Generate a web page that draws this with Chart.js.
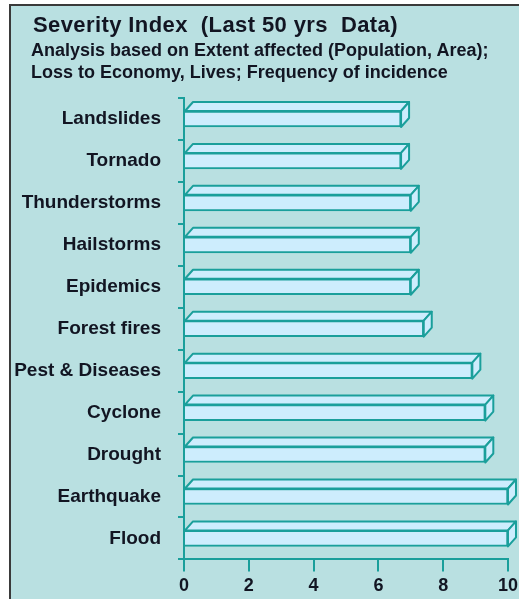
<!DOCTYPE html>
<html>
<head>
<meta charset="utf-8">
<script src="https://cdn.jsdelivr.net/npm/chart.js@4.4.1/dist/chart.umd.min.js"></script>
<style>
  body { margin: 0; background: #fff; overflow: hidden; font-family: 'Liberation Sans', Arial, sans-serif; color: #121522; }
  #panel {
    position: absolute; left: 9px; top: 4px; width: 508px; height: 600px;
    background: #b9e0e1; border-left: 2px solid #3a3a3a; border-top: 2px solid #3a3a3a;
  }
  #chart { position: absolute; left: 0; top: 0; }
  .title { position: absolute; left: 33px; top: 12px; font-size: 22px; letter-spacing: 0.4px; font-weight: bold; line-height: 25px; white-space: pre; }
  .subtitle { position: absolute; left: 31px; top: 39px; font-size: 18px; font-weight: bold; line-height: 22px; white-space: pre; }
</style>
</head>
<body>
<div id="panel"></div>
<canvas id="chart" width="522" height="604"></canvas>
<div class="title">Severity Index  (Last 50 yrs  Data)</div>
<div class="subtitle">Analysis based on Extent affected (Population, Area);
Loss to Economy, Lives; Frequency of incidence</div>
<script>
// data
const hazards = ['Landslides', 'Tornado', 'Thunderstorms', 'Hailstorms', 'Epidemics',
  'Forest fires', 'Pest & Diseases', 'Cyclone', 'Drought', 'Earthquake', 'Flood'];
const severity = [6.7, 6.7, 7.0, 7.0, 7.0, 7.4, 8.9, 9.3, 9.3, 10, 10];
const xTicks = [0, 2, 4, 6, 8, 10];

const teal = '#1a9f9b';
const barFill = '#cdedfd';
const textColor = '#121522';
const font = 'Liberation Sans, Arial, sans-serif';

// draws the top and side faces so bars look like the 3D ones
const bars3d = {
  id: 'bars3d',
  afterDatasetsDraw(chart) {
    const ctx = chart.ctx;
    const dx = 8, dy = 9;
    chart.getDatasetMeta(0).data.forEach(bar => {
      const p = bar.getProps(['x', 'y', 'base', 'height'], true);
      const top = p.y - p.height / 2, bottom = p.y + p.height / 2;
      ctx.save();
      ctx.fillStyle = barFill;
      ctx.strokeStyle = teal;
      ctx.lineWidth = 2;
      ctx.lineJoin = 'round';
      // top face
      ctx.beginPath();
      ctx.moveTo(p.base, top);
      ctx.lineTo(p.base + dx, top - dy);
      ctx.lineTo(p.x + dx, top - dy);
      ctx.lineTo(p.x, top);
      ctx.closePath();
      ctx.fill(); ctx.stroke();
      // side face
      ctx.beginPath();
      ctx.moveTo(p.x, top);
      ctx.lineTo(p.x + dx, top - dy);
      ctx.lineTo(p.x + dx, bottom - dy);
      ctx.lineTo(p.x, bottom);
      ctx.closePath();
      ctx.fill(); ctx.stroke();
      ctx.restore();
    });
  }
};

new Chart(document.getElementById('chart'), {
  type: 'bar',
  data: {
    labels: hazards,
    datasets: [{
      data: severity,
      backgroundColor: barFill,
      borderColor: teal,
      borderWidth: 2,
      barThickness: 16
    }]
  },
  options: {
    indexAxis: 'y',
    responsive: false,
    animation: false,
    layout: { padding: { top: 98, left: 10, right: 12, bottom: 3 } },
    plugins: {
      legend: { display: false },
      tooltip: { enabled: false }
    },
    scales: {
      x: {
        min: 0,
        max: 10,
        afterBuildTicks: s => { s.ticks = xTicks.map(v => ({ value: v })); },
        grid: { drawOnChartArea: false, color: teal, lineWidth: 2, tickLength: 12 },
        border: { color: teal, width: 2 },
        ticks: { color: textColor, padding: 4, font: { family: font, size: 18, weight: 'bold' } }
      },
      y: {
        afterFit: s => { s.width = 174; },
        grid: { drawOnChartArea: false, color: teal, lineWidth: 2, tickLength: 6 },
        border: { color: teal, width: 2 },
        ticks: { color: textColor, padding: 17, font: { family: font, size: 19, weight: 'bold' } }
      }
    }
  },
  plugins: [bars3d]
});
</script>
</body>
</html>
